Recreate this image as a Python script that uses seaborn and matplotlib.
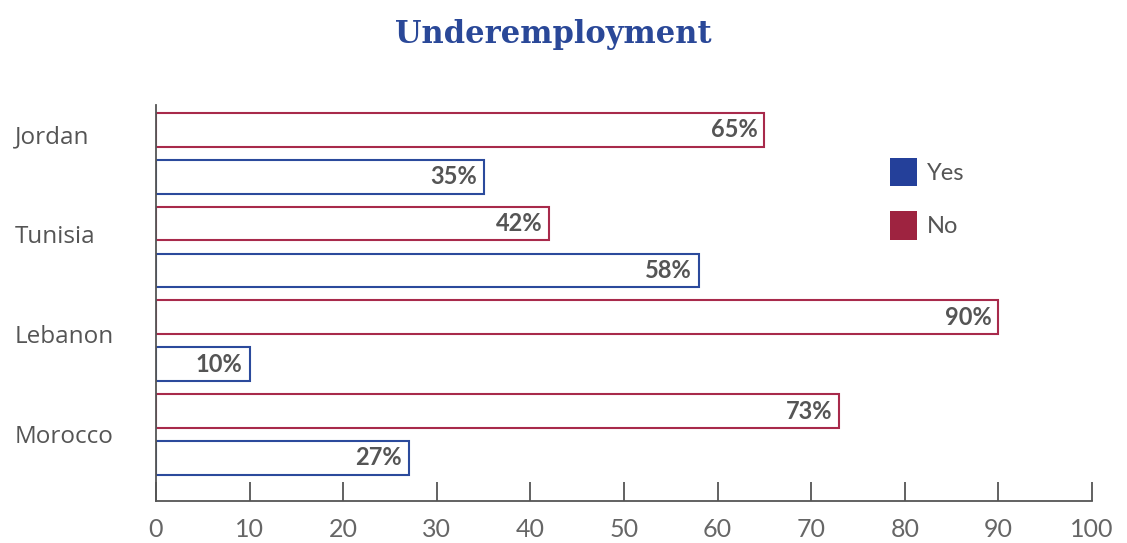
import matplotlib
matplotlib.use("Agg")
import matplotlib.pyplot as plt
from matplotlib.patches import Patch
import numpy as np
import pandas as pd
import seaborn as sns

# Share of respondents reporting underemployment, by country
countries = ["Jordan", "Tunisia", "Lebanon", "Morocco"]
no_values = [65, 42, 90, 73]
yes_values = [35, 58, 10, 27]
x_ticks = [0, 10, 20, 30, 40, 50, 60, 70, 80, 90, 100]

BLUE = "#2B4A9C"
RED = "#A82A4B"
BLUE_FILL = "#24409A"
RED_FILL = "#9E2340"
GREY = "#555555"

df = pd.DataFrame({
    "country": countries * 2,
    "answer": ["No"] * len(countries) + ["Yes"] * len(countries),
    "value": no_values + yes_values,
})

sns.set_theme(style="white")
plt.rcParams["font.family"] = ["Lato", "DejaVu Sans"]

fig = plt.figure(figsize=(11.27, 5.43), dpi=100)
ax = fig.add_axes([0.1384, 0.0773, 0.8306, 0.7293])

sns.barplot(
    data=df, y="country", x="value", hue="answer",
    order=countries, hue_order=["No", "Yes"],
    orient="h", width=1.0, gap=0.28, legend=False, ax=ax,
    fill=False, palette={"No": RED, "Yes": BLUE}, linewidth=1.5,
)

# White interiors behind the coloured outlines
for patch in ax.patches:
    patch.set_facecolor("white")
    patch.set_fill(True)

# Value labels inside the right end of each bar
for container in ax.containers:
    for patch, val in zip(container.patches, container.datavalues):
        y_mid = patch.get_y() + patch.get_height() / 2
        ax.annotate(f"{val:.0f}%", xy=(val, y_mid), xytext=(-5, 0),
                    textcoords="offset points", ha="right", va="center",
                    fontsize=17, fontweight="bold", color=GREY)

ax.set_xlim(0, 100)
ax.set_ylim(3.71, -0.515)
ax.set_xticks(x_ticks)
ax.set_xticklabels([str(v) for v in x_ticks], fontsize=18, color="#666666")
ax.tick_params(axis="x", bottom=True, direction="in", length=14, width=1.3,
               color=GREY, pad=12)

ax.set_yticks(np.linspace(-0.205, 3.0, len(countries)))
ax.set_yticklabels(countries, fontsize=17.5, color=GREY,
                   family=["Open Sans", "DejaVu Sans"])
ax.tick_params(axis="y", left=False, length=0, pad=101.5)
for lbl in ax.get_yticklabels():
    lbl.set_horizontalalignment("left")

ax.set_xlabel("")
ax.set_ylabel("")
for side in ["top", "right"]:
    ax.spines[side].set_visible(False)
for side in ["left", "bottom"]:
    ax.spines[side].set_color(GREY)
    ax.spines[side].set_linewidth(1.3)

handles = [Patch(facecolor=BLUE_FILL, edgecolor="none", label="Yes"),
           Patch(facecolor=RED_FILL, edgecolor="none", label="No")]
ax.legend(handles=handles, loc="upper left", bbox_to_anchor=(0.761, 0.921),
          frameon=False, fontsize=17, handlelength=1.18, handleheight=1.5,
          labelspacing=1.05, handletextpad=0.4, labelcolor=GREY)

fig.text(0.491, 0.937, "Underemployment", ha="center", va="center",
         fontsize=22, fontweight="bold", color="#2A4898",
         family=["DejaVu Serif"])

fig.savefig("out.png", dpi=100)
